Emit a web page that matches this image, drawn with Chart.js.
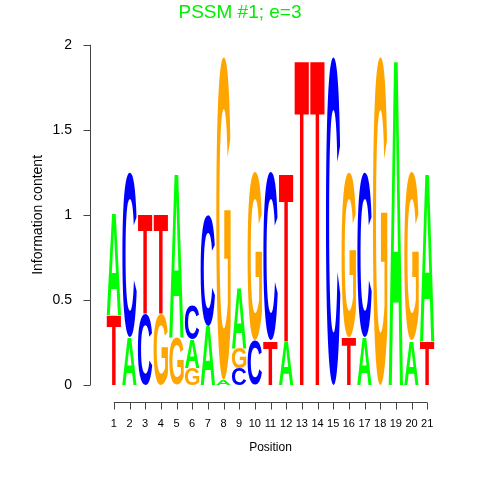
<!DOCTYPE html>
<html>
<head>
<meta charset="utf-8">
<script src="https://cdn.jsdelivr.net/npm/chart.js@4/dist/chart.umd.min.js"></script>
<style>
  html, body { margin: 0; padding: 0; background: #fff; }
  #wrap { width: 480px; height: 480px; }
</style>
</head>
<body>
<div id="wrap"><canvas id="logoChart" width="480" height="480"></canvas></div>
<script>
 // Logo data: information content of each base per position
 const positions = ['1', '2', '3', '4', '5', '6', '7', '8', '9', '10', '11',
     '12', '13', '14', '15', '16', '17', '18', '19', '20', '21'];
 const letters = ['A', 'C', 'G', 'T'];
 const heightA = [0.6, 0.28, 0, 0, 0.97, 0.17, 0.35, 0.03, 0.36, 0, 0, 0.26, 0, 0, 0, 0, 0.28, 0, 1.93, 0.26, 0.99];
 const heightC = [0, 0.97, 0.42, 0, 0, 0.2, 0.65, 0, 0.1, 0.26, 0.99, 0, 0, 0, 1.93, 0, 0.97, 0, 0, 0, 0];
 const heightG = [0, 0, 0, 0.42, 0.28, 0.1, 0, 1.9, 0.12, 0.99, 0, 0, 0, 0, 0, 0.97, 0, 1.93, 0, 0.99, 0];
 const heightT = [0.41, 0, 0.59, 0.59, 0, 0, 0, 0, 0, 0, 0.26, 0.99, 1.93, 1.93, 0, 0.28, 0, 0, 0, 0, 0.26];
 const yTicks = [0, 0.5, 1, 1.5, 2];

 const heights = {A: heightA, C: heightC, G: heightG, T: heightT};
 const letterColors = {A: '#00ff00', C: '#0000ff', G: '#ffa500', T: '#ff0000'};
 const fontFamily = '"Liberation Sans", Arial, sans-serif';

 // Stack letters smallest at the bottom, as floating bars [lo, hi]
 function stackRanges() {
     const ranges = {A: [], C: [], G: [], T: []};
     positions.forEach((p, i) => {
         letters.forEach(l => ranges[l][i] = null);
         const order = letters.filter(l => heights[l][i] > 0)
             .sort((a, b) => heights[a][i] - heights[b][i]);
         let base = 0;
         order.forEach(l => {
             ranges[l][i] = [base, base + heights[l][i]];
             base += heights[l][i];
         });
     });
     return ranges;
 }

 // Draw each letter stretched into its bar box
 const letterPlugin = {
     id: 'letters',
     afterDatasetsDraw(chart) {
         const ctx = chart.ctx;
         ctx.save();
         ctx.font = 'bold 100px ' + fontFamily;
         ctx.textAlign = 'left';
         ctx.textBaseline = 'alphabetic';
         chart.data.datasets.forEach((ds, di) => {
             if (!letterColors[ds.label]) return;
             const meta = chart.getDatasetMeta(di);
             const m = ctx.measureText(ds.label);
             const gw = m.actualBoundingBoxLeft + m.actualBoundingBoxRight;
             const gh = m.actualBoundingBoxAscent + m.actualBoundingBoxDescent;
             meta.data.forEach((bar, i) => {
                 if (!ds.data[i]) return;
                 const top = Math.min(bar.y, bar.base);
                 const h = Math.abs(bar.base - bar.y);
                 const left = bar.x - bar.width / 2;
                 ctx.save();
                 ctx.translate(left, top + h);
                 ctx.scale(bar.width / gw, h / gh);
                 ctx.fillStyle = letterColors[ds.label];
                 ctx.fillText(ds.label, m.actualBoundingBoxLeft, -m.actualBoundingBoxDescent);
                 ctx.restore();
             });
         });
         ctx.restore();
     }
 };

 // R style axes: detached lines spanning first to last tick
 const axesPlugin = {
     id: 'rAxes',
     afterDraw(chart) {
         const ctx = chart.ctx;
         const xs = chart.scales.x;
         const ys = chart.scales.y;
         const area = chart.chartArea;
         ctx.save();
         ctx.strokeStyle = '#444';
         ctx.lineWidth = 1;
         ctx.beginPath();
         const ax = Math.round(area.left - 16) + 0.5;
         ctx.moveTo(ax, ys.getPixelForValue(yTicks[0]));
         ctx.lineTo(ax, ys.getPixelForValue(yTicks[yTicks.length - 1]));
         yTicks.forEach(v => {
             const y = Math.round(ys.getPixelForValue(v)) + 0.5;
             ctx.moveTo(ax, y);
             ctx.lineTo(ax - 7, y);
         });
         const ay = Math.round(area.bottom + 17) + 0.5;
         ctx.moveTo(xs.getPixelForTick(0), ay);
         ctx.lineTo(xs.getPixelForTick(positions.length - 1), ay);
         positions.forEach((p, i) => {
             const x = Math.round(xs.getPixelForTick(i)) + 0.5;
             ctx.moveTo(x, ay);
             ctx.lineTo(x, ay + 7);
         });
         ctx.stroke();
         ctx.restore();
     }
 };

 const ranges = stackRanges();
 const datasets = letters.map(l => ({
     label: l,
     data: ranges[l],
     backgroundColor: 'rgba(0,0,0,0)',
     borderWidth: 0,
     barPercentage: 0.92,
     categoryPercentage: 1
 }));

 const ctx = document.getElementById('logoChart').getContext('2d');
 new Chart(ctx, {
     type: 'bar',
     data: {labels: positions, datasets: datasets},
     plugins: [letterPlugin, axesPlugin],
     options: {
         responsive: false,
         animation: false,
         layout: {padding: 0},
         plugins: {
             legend: {display: false},
             tooltip: {enabled: false},
             title: {
                 display: true,
                 text: 'PSSM #1; e=3',
                 color: '#00ee00',
                 font: {family: fontFamily, size: 19, weight: 'normal'},
                 padding: {top: 1, bottom: 21}
             }
         },
         scales: {
             x: {
                 stacked: true,
                 grid: {display: false, drawTicks: false},
                 border: {display: false},
                 ticks: {
                     color: '#000',
                     font: {family: fontFamily, size: 11},
                     padding: 32,
                     maxRotation: 0,
                     autoSkip: false
                 },
                 title: {
                     display: true,
                     text: 'Position',
                     color: '#000',
                     font: {family: fontFamily, size: 12},
                     padding: {top: 8, bottom: 25}
                 },
                 afterFit: scale => { scale.height = 95; }
             },
             y: {
                 min: 0,
                 max: 2,
                 grid: {display: false, drawTicks: false},
                 border: {display: false},
                 afterBuildTicks: scale => { scale.ticks = yTicks.map(v => ({value: v})); },
                 ticks: {
                     color: '#000',
                     font: {family: fontFamily, size: 14},
                     padding: 34,
                     callback: v => String(v)
                 },
                 title: {
                     display: true,
                     text: 'Information content',
                     color: '#000',
                     font: {family: fontFamily, size: 14},
                     padding: {top: 30, bottom: 0}
                 },
                 afterFit: scale => { scale.width = 106; }
             },
             // empty right margin so the title centres on the page
             yRight: {
                 position: 'right',
                 display: true,
                 grid: {display: false, drawTicks: false},
                 border: {display: false},
                 ticks: {display: false},
                 afterFit: scale => { scale.width = 45; }
             }
         }
     }
 });
</script>
</body>
</html>
